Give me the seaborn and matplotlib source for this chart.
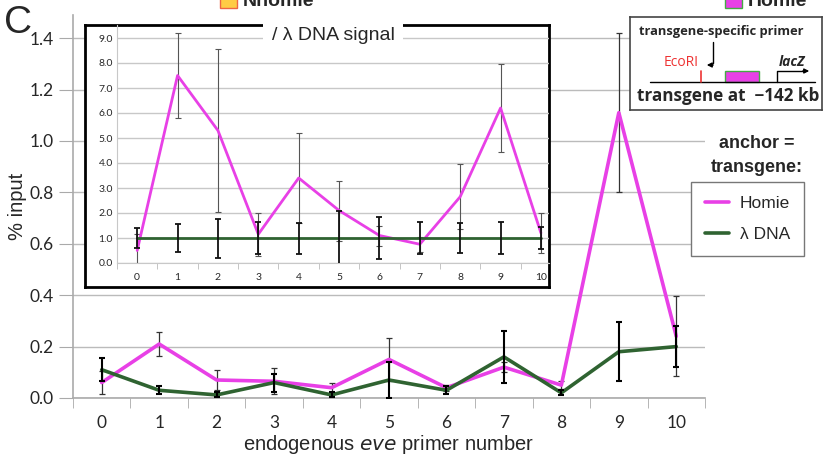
import pandas as pd
import matplotlib
matplotlib.use("Agg")
import matplotlib.pyplot as plt
from matplotlib.lines import Line2D
from matplotlib.patches import Rectangle
import numpy as np
import seaborn as sns

sns.set_style("white")
plt.rcParams["font.family"] = ["Liberation Sans", "DejaVu Sans"]

magenta = "#e840e6"
green = "#2f6331"

primers = list(range(11))

# main panel: % input
homie_pct = [0.06, 0.21, 0.07, 0.065, 0.04, 0.15, 0.04, 0.12, 0.05, 1.11, 0.24]
homie_pct_err = [0.045, 0.048, 0.04, 0.05, 0.02, 0.085, 0.012, 0.02, 0.015, 0.31, 0.155]
lambda_pct = [0.11, 0.03, 0.012, 0.06, 0.012, 0.07, 0.03, 0.16, 0.02, 0.18, 0.20]
lambda_pct_err = [0.045, 0.015, 0.01, 0.035, 0.01, 0.07, 0.015, 0.10, 0.01, 0.115, 0.08]

# inset: normalised to lambda DNA signal
homie_norm = [0.5, 7.5, 5.3, 1.15, 3.4, 2.1, 1.1, 0.75, 2.65, 6.2, 1.2]
homie_norm_err = [0.65, 1.7, 3.25, 0.85, 1.8, 1.2, 0.4, 0.3, 1.3, 1.75, 0.8]
lambda_norm = [1.0] * 11
lambda_norm_err = [0.4, 0.57, 0.78, 0.65, 0.62, 1.1, 0.85, 0.63, 0.6, 0.64, 0.45]

anchors = ["Homie", "λ DNA"]
palette = {"Homie": magenta, "λ DNA": green}

df = pd.DataFrame({
    "primer": primers * 2,
    "pct": homie_pct + lambda_pct,
    "norm": homie_norm + lambda_norm,
    "anchor": ["Homie"] * 11 + ["λ DNA"] * 11,
})

W, H = 828, 457
fig = plt.figure(figsize=(W / 100, H / 100), dpi=100)


def frect(x0, y0, x1, y1):
    # pixel box (top-left origin) -> figure rect
    return [x0 / W, 1 - y1 / H, (x1 - x0) / W, (y1 - y0) / H]


tick_font = ["Lato", "DejaVu Sans"]
gray = "#aaaaaa"

# ---- main axes ----
ax = fig.add_axes(frect(73, 15, 705, 398))
sns.lineplot(data=df, x="primer", y="pct", hue="anchor", hue_order=anchors,
             palette=palette, lw=2.6, legend=False, ax=ax, zorder=3)
ax.errorbar(primers, homie_pct, yerr=homie_pct_err, fmt="none", ecolor="#333333",
            elinewidth=0.9, capsize=2.5, capthick=0.9, zorder=2)
ax.errorbar(primers, lambda_pct, yerr=lambda_pct_err, fmt="none", ecolor="black",
            elinewidth=1.5, capsize=2.5, capthick=1.5, zorder=4)
ax.set_xlim(-0.5, 10.5)
ax.set_ylim(0, 1.49)
ax.set_yticks(np.arange(0, 1.41, 0.2))
ax.set_yticklabels([f"{v:.1f}" for v in np.arange(0, 1.41, 0.2)], family=tick_font, fontsize=12.5)
ax.set_xticks(primers)
ax.set_xticklabels([str(p) for p in primers], family=tick_font, fontsize=12.5)
ax.set_xticks(np.arange(-0.5, 10.6, 1), minor=True)
ax.tick_params(axis="x", which="major", length=0, pad=12)
ax.tick_params(axis="x", which="minor", length=7, color=gray, direction="out", bottom=True)
ax.tick_params(axis="y", length=10, color=gray, direction="out", left=True, pad=4)
ax.grid(axis="y", color="#bbbbbb", lw=1)
ax.grid(axis="x", visible=False)
for s in ["top", "right"]:
    ax.spines[s].set_visible(False)
for s in ["left", "bottom"]:
    ax.spines[s].set_color(gray)
    ax.spines[s].set_linewidth(1.2)
ax.set_xlabel("endogenous $\\it{eve}$ primer number", fontsize=14.5, labelpad=2)
ax.set_ylabel("% input", fontsize=14.5, labelpad=2)

# ---- inset box ----
box = fig.add_axes(frect(85, 25, 549, 287))
box.set_xticks([])
box.set_yticks([])
box.set_facecolor("white")
for s in box.spines.values():
    s.set_linewidth(2)
    s.set_color("black")
box.set_zorder(5)

ins = fig.add_axes(frect(117, 25, 549, 263))
ins.set_zorder(6)
ins.patch.set_alpha(0)
sns.lineplot(data=df, x="primer", y="norm", hue="anchor", hue_order=anchors,
             palette=palette, lw=2.0, legend=False, ax=ins, zorder=3)
ins.errorbar(primers, homie_norm, yerr=homie_norm_err, fmt="none", ecolor="#555555",
             elinewidth=0.8, capsize=2, capthick=0.8, zorder=2)
ins.errorbar(primers, lambda_norm, yerr=lambda_norm_err, fmt="none", ecolor="#111111",
             elinewidth=1.3, capsize=2, capthick=1.3, zorder=4)
ins.set_xlim(-0.5, 10.2)
ins.set_ylim(0, 9.52)
ins.set_yticks(np.arange(0, 9.1, 1))
ins.set_yticklabels([f"{v:.1f}" for v in np.arange(0, 9.1, 1)], family=tick_font, fontsize=7.5)
ins.set_xticks(primers)
ins.set_xticklabels([str(p) for p in primers], family=tick_font, fontsize=7.5)
ins.set_xticks(np.arange(-0.5, 10.2, 1), minor=True)
ins.tick_params(axis="x", which="major", length=0, pad=7)
ins.tick_params(axis="x", which="minor", length=4, color="#bbbbbb", direction="out", bottom=True)
ins.tick_params(axis="y", length=0, pad=3)
ins.grid(axis="y", color="#c8c8c8", lw=1)
ins.grid(axis="x", visible=False)
for s in ["top", "right"]:
    ins.spines[s].set_visible(False)
for s in ["left", "bottom"]:
    ins.spines[s].set_color("#c8c8c8")
ins.set_xlabel("")
ins.set_ylabel("")
ins.text(0.5, 0.955, "/ λ DNA signal", transform=ins.transAxes, ha="center", va="center",
         fontsize=14, zorder=7, bbox=dict(facecolor="white", edgecolor="none", pad=6))

# ---- schematic box (top right) ----
sch = fig.add_axes(frect(630, 17, 822, 110))
sch.set_xlim(630, 822)
sch.set_ylim(110, 17)
sch.set_xticks([])
sch.set_yticks([])
for s in sch.spines.values():
    s.set_color("#444444")
    s.set_linewidth(1.2)
sch_font = ["Open Sans", "DejaVu Sans"]
sch.text(639, 32, "transgene-specific primer", fontsize=9.3, fontweight="bold",
         family=sch_font, va="center")
sch.plot([713, 713], [42, 63], color="black", lw=1)
sch.annotate("", xy=(704, 65), xytext=(716, 65),
             arrowprops=dict(arrowstyle="-|>", color="black", lw=1, mutation_scale=7))
sch.text(664, 63, "EcoRI", color="#ee3333", fontsize=10, va="center", family=sch_font)
sch.plot([650, 815], [82, 82], color="black", lw=1)
sch.plot([701, 701], [71, 82], color="#ee3333", lw=1.2)
sch.add_patch(Rectangle((725, 71), 34, 11, facecolor=magenta, edgecolor="#44aa44", lw=1))
sch.plot([777, 777, 805], [82, 71, 71], color="black", lw=1)
sch.annotate("", xy=(812, 71), xytext=(800, 71),
             arrowprops=dict(arrowstyle="-|>", color="black", lw=1, mutation_scale=7))
sch.text(779, 62, "lacZ", fontsize=10, fontweight="bold", style="italic", va="center",
         family=sch_font)
sch.text(637, 96, "transgene at  −142 kb", fontsize=12.3, fontweight="bold", va="center",
         family=sch_font)

# ---- legend ----
fig.text(757 / W, 1 - 143 / H, "anchor =", ha="center", va="center", fontsize=13, fontweight="bold")
fig.text(757 / W, 1 - 168 / H, "transgene:", ha="center", va="center", fontsize=13, fontweight="bold")
handles = [Line2D([], [], color=palette[a], lw=2.6) for a in anchors]
leg = fig.legend(handles, anchors, loc="upper left", bbox_to_anchor=(691 / W, 1 - 182 / H),
                 borderaxespad=0, fancybox=False, edgecolor="#777777", fontsize=12.5,
                 handlelength=1.4, handletextpad=0.6, labelspacing=0.9, borderpad=0.8,
                 framealpha=1)
leg.get_frame().set_linewidth(1)

# ---- panel letter and clipped top legend ----
fig.text(4 / W, 1 - 33 / H, "C", fontsize=28, va="baseline")
fig.patches.append(Rectangle((220 / W, 1 - 8 / H), 17 / W, 16 / H, facecolor="#ffcc44",
                             edgecolor="#ee6644", lw=1, transform=fig.transFigure, figure=fig))
fig.text(243 / W, 1 - 6 / H, "Nhomie", fontsize=14, fontweight="bold", va="baseline")
fig.patches.append(Rectangle((725 / W, 1 - 8 / H), 17 / W, 16 / H, facecolor=magenta,
                             edgecolor="#44aa44", lw=1, transform=fig.transFigure, figure=fig))
fig.text(748 / W, 1 - 6 / H, "Homie", fontsize=14, fontweight="bold", va="baseline")

fig.savefig("out.png", dpi=100)
